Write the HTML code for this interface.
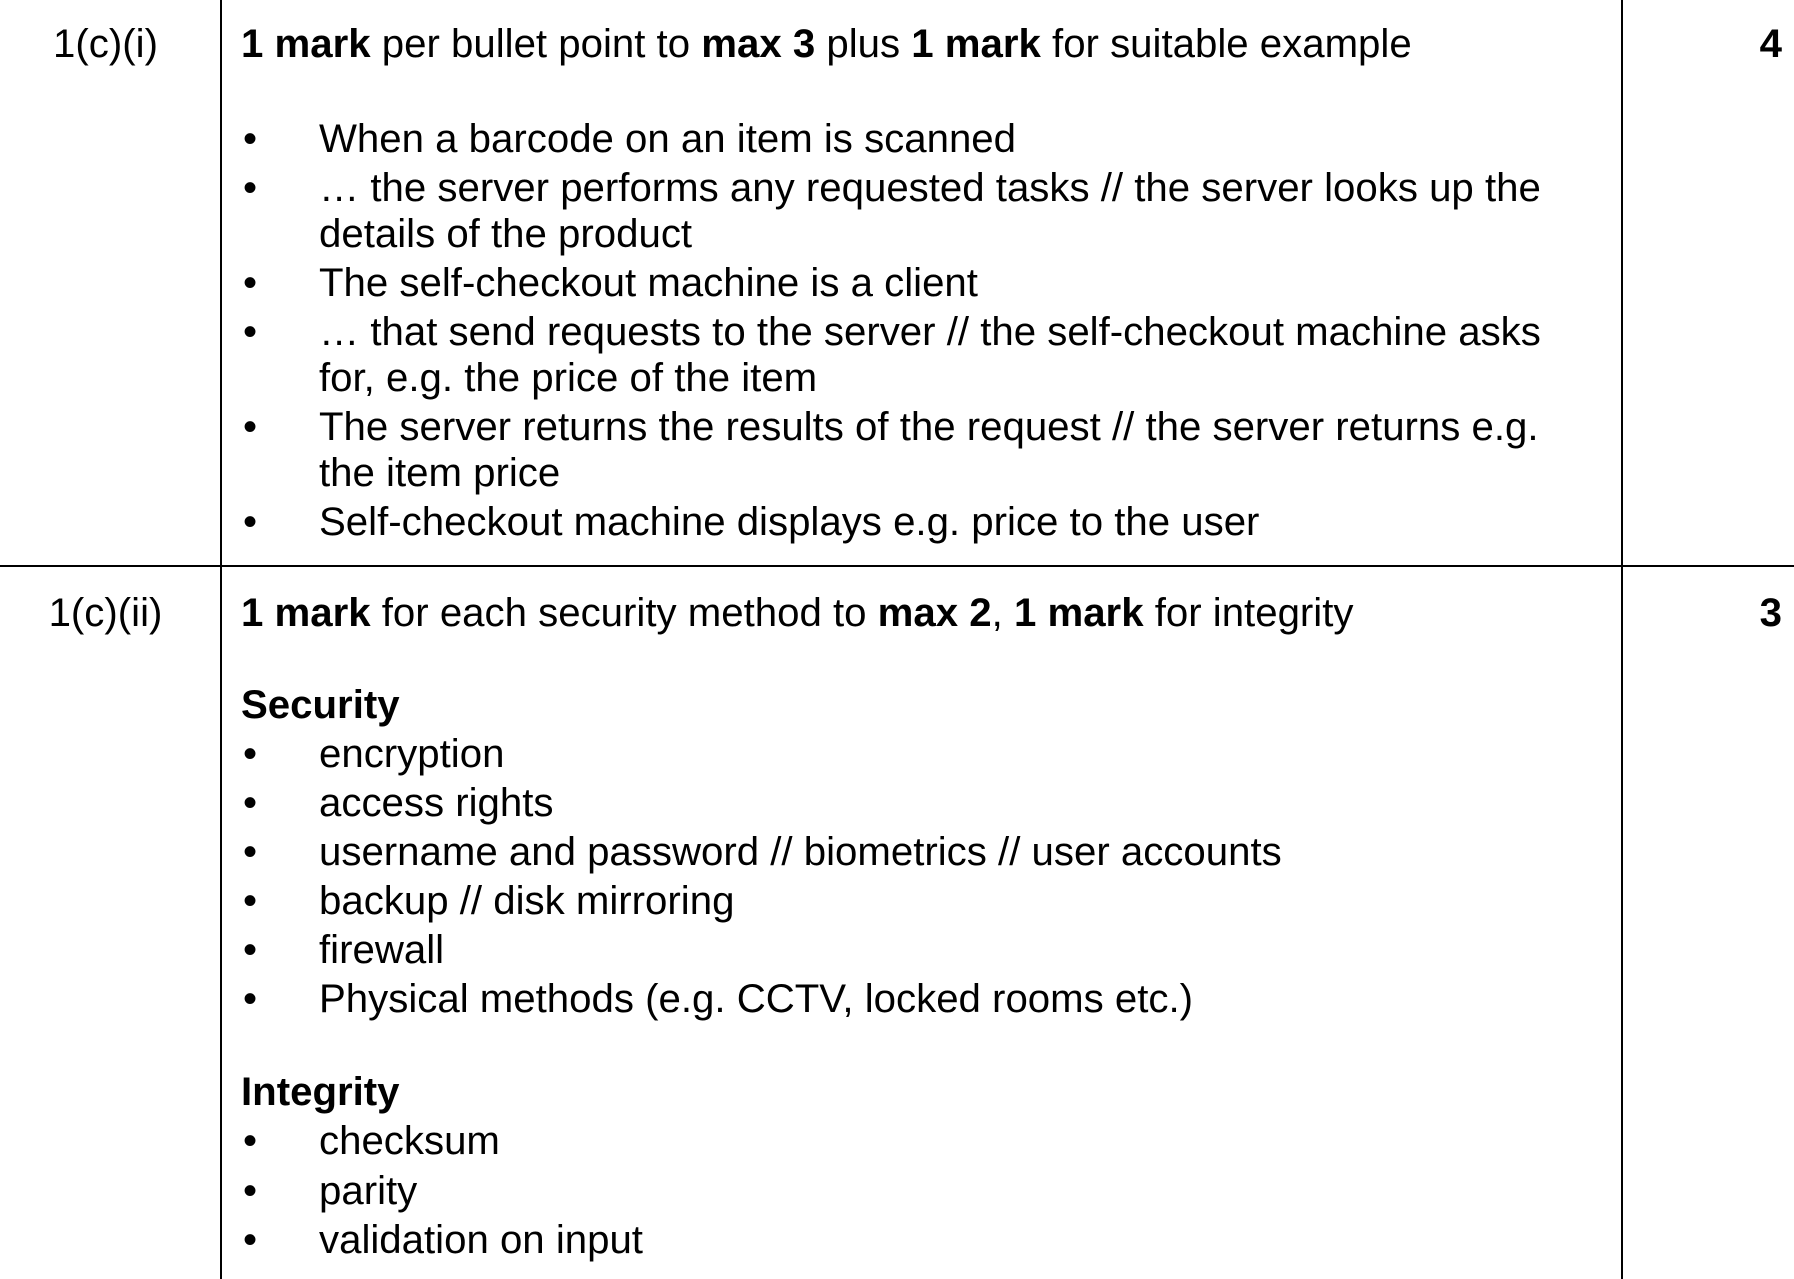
<!DOCTYPE html>
<html><head><meta charset="utf-8"><style>
html,body{margin:0;padding:0;background:#fff;}
body{width:1794px;height:1279px;position:relative;overflow:hidden;font-family:"Liberation Sans",Arial,sans-serif;font-size:40.2px;color:#000;}
.t{position:absolute;line-height:46px;white-space:nowrap;}
.b{position:absolute;line-height:46px;left:243px;}
.v{position:absolute;top:0;width:2px;height:1279px;background:#000;}
.h{position:absolute;left:0;width:1794px;height:2px;background:#000;}
</style></head><body>
<div class="v" style="left:220px"></div>
<div class="v" style="left:1621px"></div>
<div class="h" style="top:565px"></div>

<div class="t" style="left:0;width:211px;text-align:center;top:21px">1(c)(i)</div>
<div class="t" style="left:241px;top:21px"><b>1 mark</b> per bullet point to <b>max 3</b> plus <b>1 mark</b> for suitable example</div>
<div class="t" style="right:12px;top:21px"><b>4</b></div>

<div class="b" style="top:116px">•</div><div class="t" style="left:319px;top:116px">When a barcode on an item is scanned</div>
<div class="b" style="top:165px">•</div><div class="t" style="left:319px;top:165px">… the server performs any requested tasks // the server looks up the</div>
<div class="t" style="left:319px;top:211px">details of the product</div>
<div class="b" style="top:260px">•</div><div class="t" style="left:319px;top:260px">The self-checkout machine is a client</div>
<div class="b" style="top:309px">•</div><div class="t" style="left:319px;top:309px">… that send requests to the server // the self-checkout machine asks</div>
<div class="t" style="left:319px;top:355px">for, e.g. the price of the item</div>
<div class="b" style="top:404px">•</div><div class="t" style="left:319px;top:404px">The server returns the results of the request // the server returns e.g.</div>
<div class="t" style="left:319px;top:450px">the item price</div>
<div class="b" style="top:499px">•</div><div class="t" style="left:319px;top:499px">Self-checkout machine displays e.g. price to the user</div>

<div class="t" style="left:0;width:211px;text-align:center;top:590px">1(c)(ii)</div>
<div class="t" style="left:241px;top:590px"><b>1 mark</b> for each security method to <b>max 2</b>, <b>1 mark</b> for integrity</div>
<div class="t" style="right:12px;top:590px"><b>3</b></div>

<div class="t" style="left:241px;top:682px"><b>Security</b></div>
<div class="b" style="top:731px">•</div><div class="t" style="left:319px;top:731px">encryption</div>
<div class="b" style="top:780px">•</div><div class="t" style="left:319px;top:780px">access rights</div>
<div class="b" style="top:829px">•</div><div class="t" style="left:319px;top:829px">username and password // biometrics // user accounts</div>
<div class="b" style="top:878px">•</div><div class="t" style="left:319px;top:878px">backup // disk mirroring</div>
<div class="b" style="top:927px">•</div><div class="t" style="left:319px;top:927px">firewall</div>
<div class="b" style="top:976px">•</div><div class="t" style="left:319px;top:976px">Physical methods (e.g. CCTV, locked rooms etc.)</div>

<div class="t" style="left:241px;top:1069px"><b>Integrity</b></div>
<div class="b" style="top:1118px">•</div><div class="t" style="left:319px;top:1118px">checksum</div>
<div class="b" style="top:1168px">•</div><div class="t" style="left:319px;top:1168px">parity</div>
<div class="b" style="top:1217px">•</div><div class="t" style="left:319px;top:1217px">validation on input</div>
</body></html>
